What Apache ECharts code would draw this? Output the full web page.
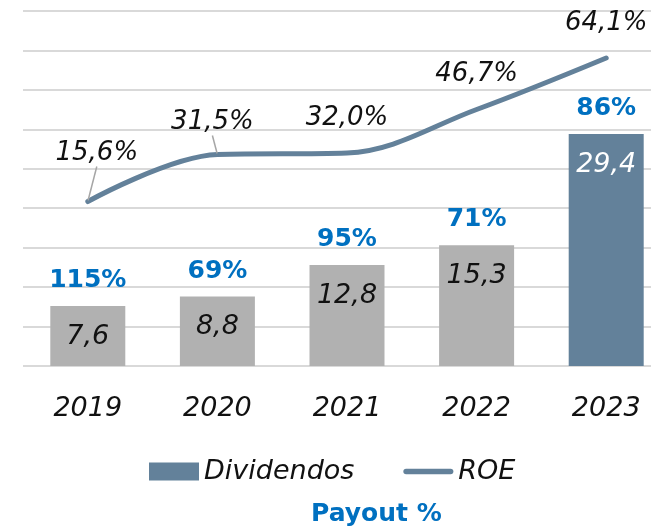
<!DOCTYPE html>
<html>
<head>
<meta charset="utf-8">
<script src="https://cdn.jsdelivr.net/npm/echarts@6/dist/echarts.min.js"></script>
<style>
  html, body { margin: 0; padding: 0; background: #fff; }
  #chart { width: 651px; height: 526px; }
</style>
</head>
<body>
<div id="chart"></div>
<script>
// Dividends paid (bars), ROE % (line) and payout ratio (labels above bars)
const years = ['2019', '2020', '2021', '2022', '2023'];
const dividendos = [7.6, 8.8, 12.8, 15.3, 29.4];
const roe = [15.6, 31.5, 32.0, 46.7, 64.1];
const payout = [115, 69, 95, 71, 86];

const FONT = '"DejaVu Sans", sans-serif';
const BLUE_GREY = '#63819a';
const GREY = '#b1b1b1';
const PAYOUT_BLUE = '#0070c0';
const TEXT = '#111';
const lastIndex = years.length - 1;

const fmt = v => v.toFixed(1).replace('.', ',');

// Label nudges for the ROE line (the first two carry leader lines)
const roeLabelShift = { 0: { dx: 9, dy: -13 }, 1: { dx: -5, dy: 3 } };

// The latest year is highlighted: blue-grey bar with a white value label
const dividendData = dividendos.map((v, i) => (
  i === lastIndex
    ? { value: v, itemStyle: { color: BLUE_GREY }, label: { color: '#ffffff' } }
    : { value: v, itemStyle: { color: GREY } }
));

const chart = echarts.init(document.getElementById('chart'), null, { renderer: 'canvas' });

chart.setOption({
  animation: false,
  textStyle: { fontFamily: FONT },
  grid: { left: 23, top: 11, width: 648, bottom: 160, outerBoundsMode: 'none' },
  title: {
    text: 'Payout %',
    left: 306,
    top: 497,
    padding: 5,
    textStyle: { color: PAYOUT_BLUE, fontSize: 25, fontWeight: 'bold', fontFamily: FONT }
  },
  legend: {
    left: 149,
    top: 458,
    padding: 0,
    itemWidth: 50,
    itemHeight: 18,
    itemGap: 49,
    data: [
      { name: 'Dividendos', icon: 'rect', itemStyle: { color: BLUE_GREY } },
      { name: 'ROE', icon: 'path://M3,0 H51 A3,3 0 0 1 51,6 H3 A3,3 0 0 1 3,0 Z', itemStyle: { color: BLUE_GREY } }
    ],
    textStyle: { fontSize: 27, fontStyle: 'italic', color: TEXT, fontFamily: FONT }
  },
  xAxis: {
    type: 'category',
    data: years,
    axisLine: { show: false },
    axisTick: { show: false },
    axisLabel: {
      margin: 29,
      fontSize: 27,
      fontStyle: 'italic',
      color: TEXT,
      fontFamily: FONT
    }
  },
  yAxis: [
    {
      type: 'value',
      min: 0,
      max: 45,
      interval: 5,
      axisLabel: { show: false },
      axisLine: { show: false },
      axisTick: { show: false },
      splitLine: { lineStyle: { color: '#d9d9d9', width: 2 } }
    },
    {
      type: 'value',
      min: -40,
      max: 80,
      show: false,
      splitLine: { show: false }
    }
  ],
  series: [
    {
      name: 'Dividendos',
      type: 'bar',
      barWidth: 75,
      data: dividendData,
      itemStyle: { color: BLUE_GREY },
      label: {
        show: true,
        position: 'insideTop',
        distance: 17,
        fontSize: 27,
        fontStyle: 'italic',
        fontFamily: FONT,
        color: TEXT,
        formatter: p => fmt(p.value)
      },
      emphasis: { disabled: true }
    },
    {
      // Invisible twin of the bars that carries the payout ratio above each bar
      name: 'Payout',
      type: 'bar',
      barWidth: 75,
      barGap: '-100%',
      data: dividendos,
      itemStyle: { color: 'rgba(0,0,0,0)' },
      label: {
        show: true,
        position: 'top',
        distance: 13,
        fontSize: 25,
        fontWeight: 'bold',
        fontFamily: FONT,
        color: PAYOUT_BLUE,
        formatter: p => payout[p.dataIndex] + '%'
      },
      emphasis: { disabled: true },
      z: 3
    },
    {
      name: 'ROE',
      type: 'line',
      yAxisIndex: 1,
      smooth: 0.35,
      symbol: 'circle',
      symbolSize: 2,
      showSymbol: true,
      data: roe.map((v, i) => ({
        value: v,
        labelLine: { show: i in roeLabelShift }
      })),
      lineStyle: { color: BLUE_GREY, width: 5, cap: 'round' },
      itemStyle: { color: BLUE_GREY },
      label: {
        show: true,
        position: 'top',
        distance: 21,
        fontSize: 26,
        fontStyle: 'italic',
        fontFamily: FONT,
        color: TEXT,
        formatter: p => fmt(p.value) + '%'
      },
      labelLine: {
        show: true,
        lineStyle: { color: '#a6a6a6', width: 1.5 }
      },
      labelLayout: p => roeLabelShift[p.dataIndex] || {},
      emphasis: { disabled: true },
      z: 4
    }
  ]
});
</script>
</body>
</html>
